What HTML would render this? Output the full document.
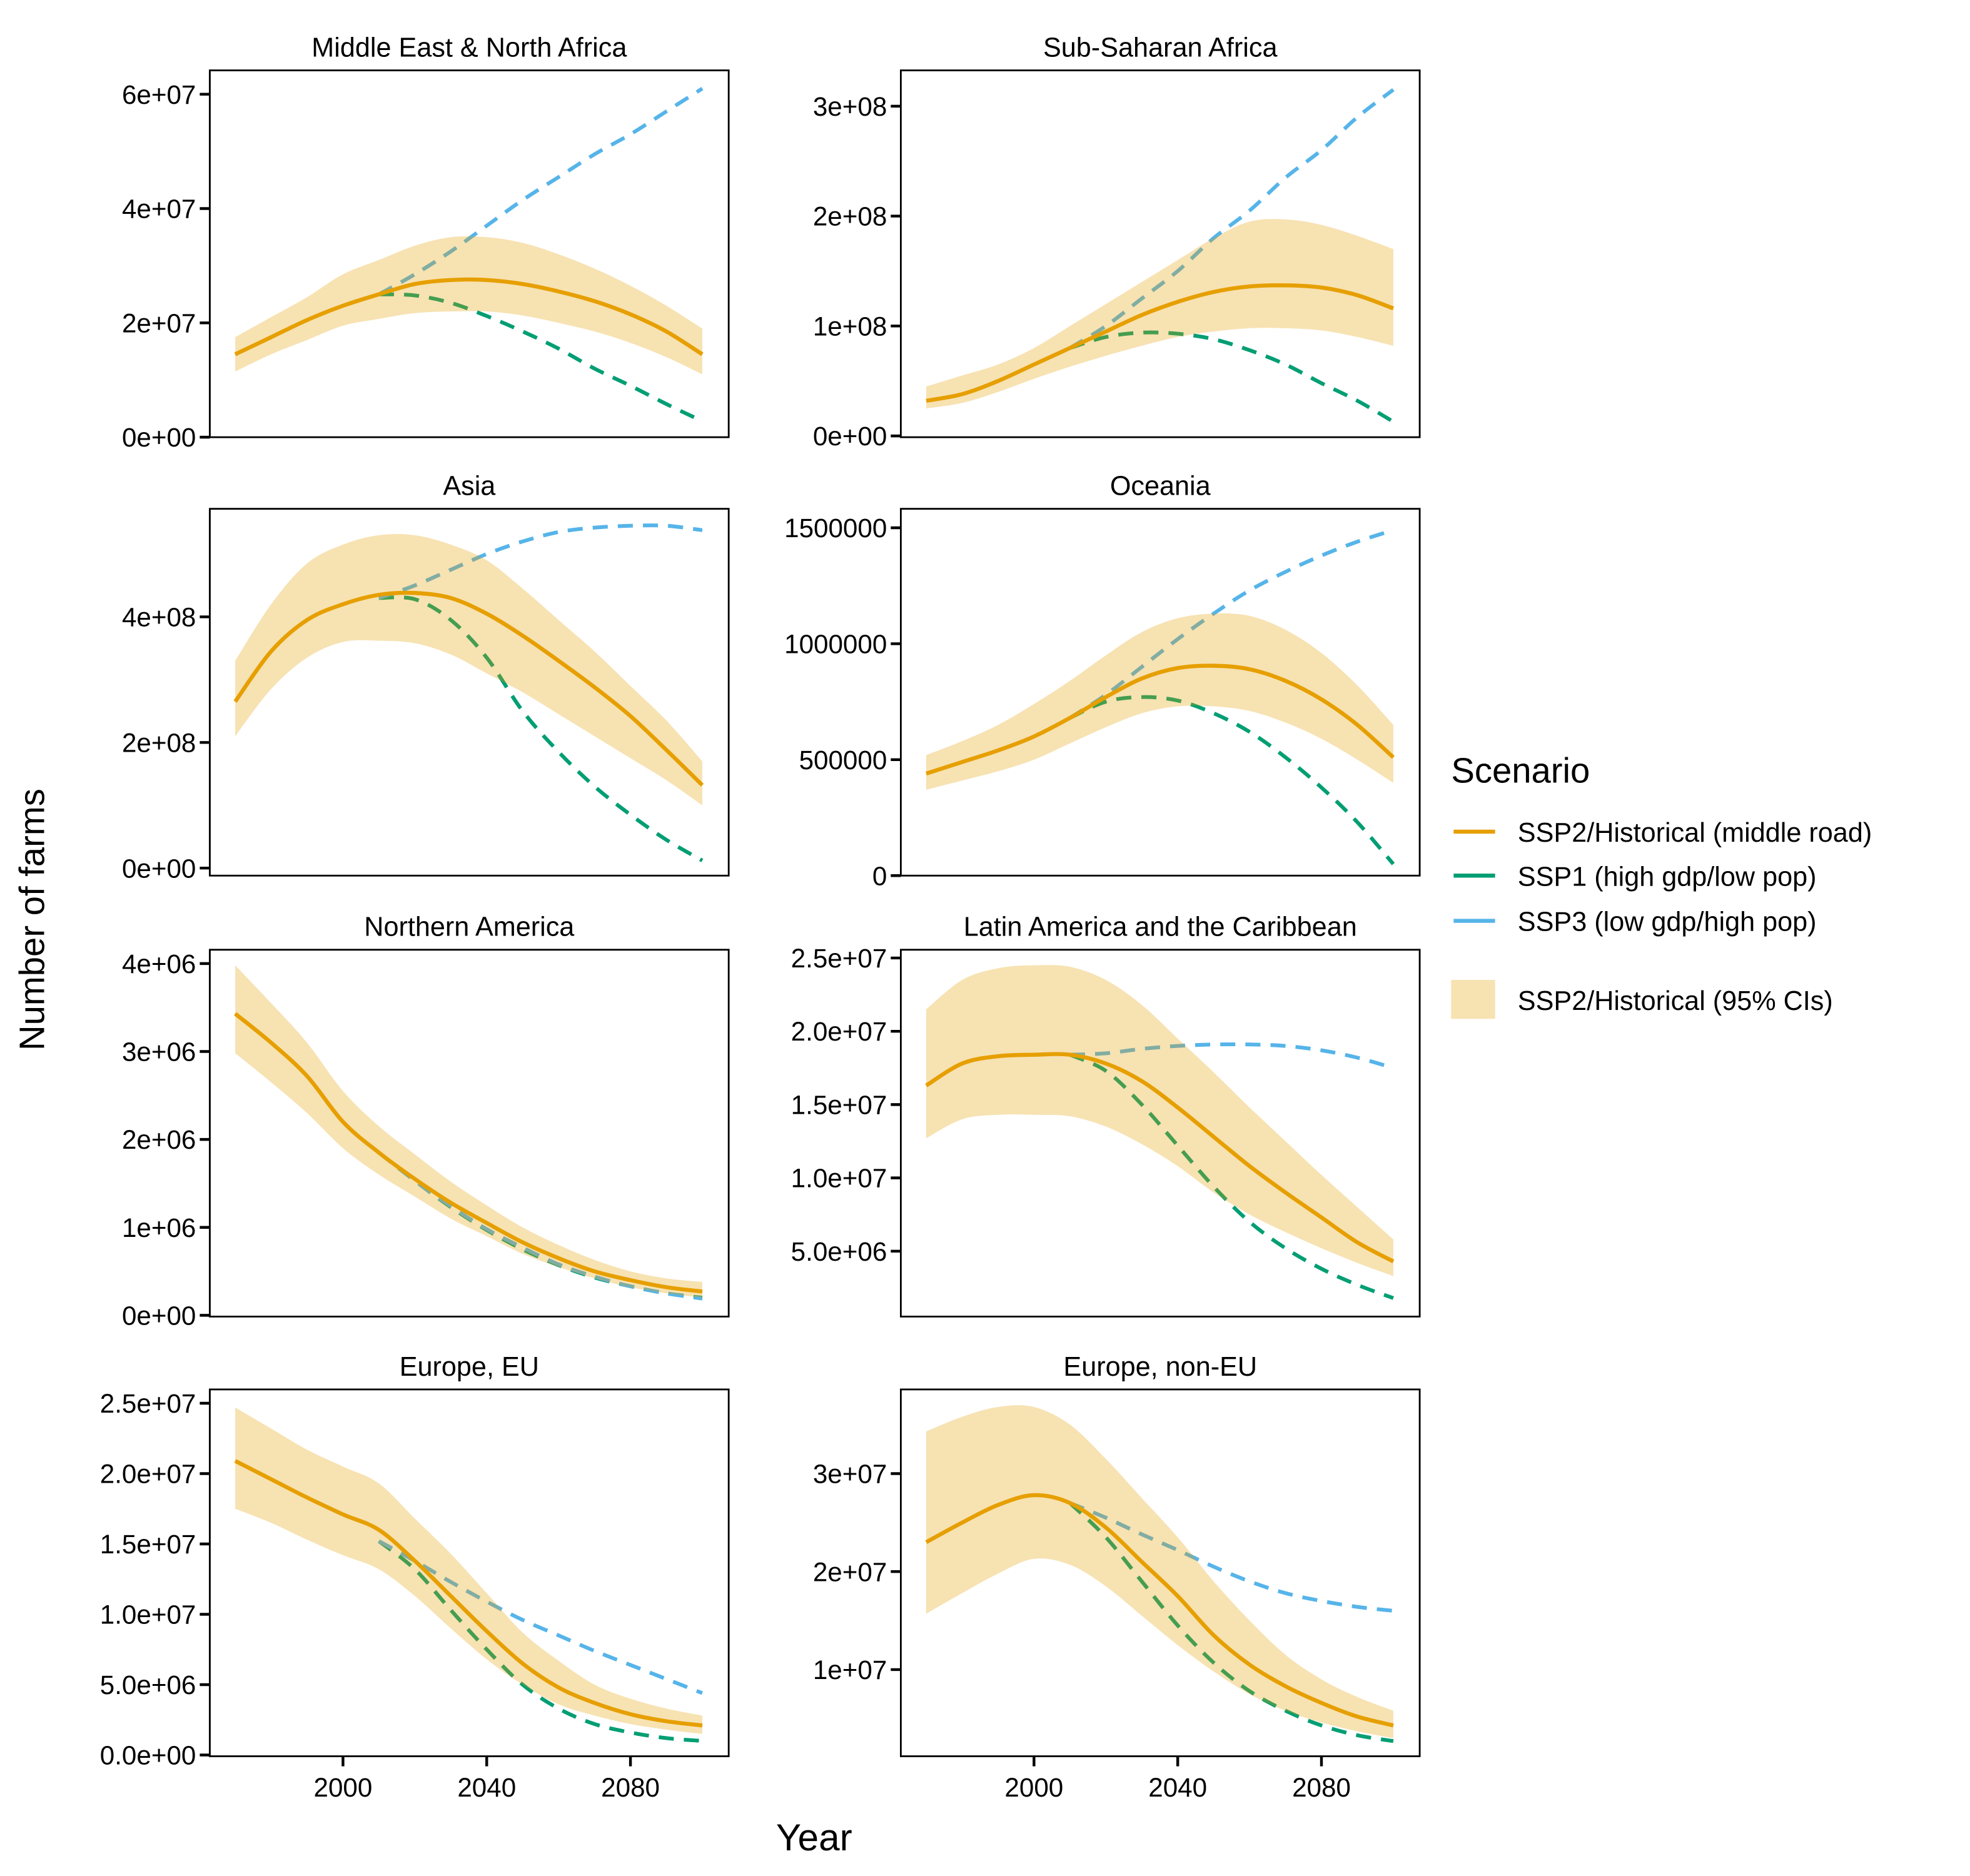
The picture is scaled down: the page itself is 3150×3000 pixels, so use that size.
<!DOCTYPE html>
<html><head><meta charset="utf-8">
<style>html,body{margin:0;padding:0;background:#fff}svg{display:block}text{font-family:"Liberation Sans",Arial,sans-serif;fill:#000}</style>
</head><body>
<svg id="chart" width="3150" height="3000" viewBox="0 0 1568 1493.3" xmlns="http://www.w3.org/2000/svg">
<text x="0" y="0" transform="translate(35,732) rotate(-90)" text-anchor="middle" font-size="28">Number of farms</text>
<text x="648" y="1473" text-anchor="middle" font-size="30">Year</text>
<g>
<text x="1155" y="623" font-size="28">Scenario</text>
<line x1="1157" y1="662" x2="1190" y2="662" stroke="#E69F00" stroke-width="3.2"/>
<text x="1208" y="670" font-size="21.5">SSP2/Historical (middle road)</text>
<line x1="1157" y1="697" x2="1190" y2="697" stroke="#009E73" stroke-width="3.2"/>
<text x="1208" y="705" font-size="21.5">SSP1 (high gdp/low pop)</text>
<line x1="1157" y1="733" x2="1190" y2="733" stroke="#56B4E9" stroke-width="3.2"/>
<text x="1208" y="741" font-size="21.5">SSP3 (low gdp/high pop)</text>
<rect x="1155" y="780" width="35" height="31" fill="#E69F00" fill-opacity="0.3"/>
<text x="1208" y="804" font-size="21.5">SSP2/Historical (95% CIs)</text>
</g>
</svg>
<script>
const years = [1970,1980,1990,2000,2010,2020,2030,2040,2050,2060,2070,2080,2090,2100];
const scenYears = [2010,2020,2030,2040,2050,2060,2070,2080,2090,2100];
const regionNames = ["Middle East & North Africa","Sub-Saharan Africa","Asia","Oceania","Northern America","Latin America and the Caribbean","Europe, EU","Europe, non-EU"];
const regionScale = [1e7,1e8,1e8,1e5,1e6,1e6,1e6,1e6];
const midValues = [
[1.45,1.75,2.05,2.3,2.5,2.68,2.75,2.75,2.68,2.55,2.38,2.15,1.85,1.45],
[0.32,0.38,0.5,0.65,0.8,0.95,1.1,1.22,1.31,1.36,1.37,1.35,1.28,1.16],
[2.65,3.45,3.95,4.2,4.35,4.38,4.3,4.05,3.7,3.3,2.88,2.42,1.88,1.32],
[4.4,4.9,5.4,6.0,6.8,7.7,8.5,8.95,9.05,8.9,8.4,7.6,6.5,5.1],
[3.43,3.1,2.72,2.2,1.85,1.55,1.28,1.05,0.83,0.65,0.5,0.4,0.32,0.27],
[16.3,17.8,18.3,18.4,18.4,17.8,16.6,14.8,12.8,10.8,9.0,7.3,5.6,4.3],
[20.9,19.6,18.3,17.1,16.0,13.8,11.3,8.8,6.5,4.8,3.7,2.9,2.4,2.1],
[23.0,25.0,26.8,27.8,27.0,24.5,21.0,17.5,13.5,10.5,8.3,6.6,5.2,4.3]];
const lowValues = [
[1.15,1.45,1.7,1.95,2.07,2.17,2.2,2.2,2.13,2.0,1.85,1.65,1.4,1.1],
[0.25,0.3,0.4,0.52,0.63,0.73,0.82,0.9,0.95,0.98,0.98,0.96,0.9,0.82],
[2.1,2.85,3.35,3.6,3.62,3.58,3.4,3.1,2.8,2.45,2.1,1.75,1.4,1.0],
[3.7,4.1,4.5,5.0,5.7,6.4,7.0,7.3,7.3,7.1,6.6,5.9,5.0,4.0],
[2.98,2.65,2.3,1.9,1.6,1.35,1.1,0.9,0.7,0.55,0.42,0.32,0.25,0.2],
[12.7,14.0,14.3,14.3,14.2,13.5,12.3,10.8,9.0,7.5,6.3,5.2,4.2,3.3],
[17.5,16.5,15.3,14.2,13.2,11.3,9.0,6.8,5.0,3.6,2.8,2.2,1.8,1.5],
[15.7,17.8,19.8,21.3,20.7,18.5,15.5,12.5,9.8,7.5,5.8,4.6,3.7,3.0]];
const highValues = [
[1.75,2.1,2.45,2.85,3.1,3.35,3.5,3.5,3.4,3.2,2.95,2.65,2.3,1.9],
[0.45,0.55,0.65,0.8,1.0,1.2,1.4,1.6,1.8,1.95,1.97,1.92,1.82,1.7],
[3.3,4.2,4.85,5.15,5.3,5.3,5.15,4.9,4.45,3.95,3.45,2.9,2.35,1.7],
[5.2,5.8,6.5,7.4,8.4,9.5,10.5,11.1,11.3,11.2,10.6,9.6,8.2,6.5],
[3.98,3.55,3.1,2.55,2.15,1.83,1.52,1.25,1.0,0.8,0.63,0.5,0.42,0.38],
[21.5,23.5,24.3,24.5,24.4,23.5,21.8,19.5,17.2,14.8,12.5,10.2,8.0,5.8],
[24.7,23.2,21.7,20.5,19.3,16.8,14.3,11.5,8.7,6.7,5.0,4.0,3.3,2.8],
[34.3,35.8,36.8,36.8,35.0,31.5,27.5,23.5,19.0,15.0,11.5,9.0,7.2,5.8]];
const ssp1Values = [
[2.5,2.48,2.35,2.12,1.85,1.55,1.2,0.9,0.58,0.28],
[0.8,0.9,0.94,0.93,0.88,0.78,0.65,0.48,0.32,0.13],
[4.3,4.28,3.95,3.35,2.5,1.85,1.3,0.85,0.45,0.12],
[6.8,7.5,7.7,7.55,7.0,6.2,5.1,3.8,2.3,0.5],
[1.85,1.53,1.23,0.97,0.75,0.57,0.43,0.33,0.25,0.2],
[18.4,17.3,15.0,12.2,9.4,7.0,5.2,3.8,2.7,1.8],
[15.2,13.2,10.3,7.5,5.0,3.3,2.2,1.6,1.2,1.0],
[27.0,23.5,19.0,14.5,10.7,7.8,5.8,4.3,3.3,2.7]];
const ssp3Values = [
[2.5,2.85,3.25,3.7,4.15,4.55,4.95,5.3,5.7,6.1],
[0.8,1.0,1.25,1.5,1.8,2.05,2.35,2.6,2.9,3.15],
[4.3,4.5,4.75,5.0,5.2,5.35,5.42,5.45,5.45,5.38],
[6.8,7.8,9.0,10.2,11.3,12.3,13.1,13.8,14.4,14.9],
[1.85,1.53,1.24,0.98,0.77,0.58,0.44,0.33,0.25,0.19],
[18.4,18.5,18.8,19.0,19.1,19.1,19.0,18.7,18.2,17.5],
[15.2,13.8,12.3,10.9,9.6,8.5,7.4,6.4,5.4,4.4],
[27.0,25.5,23.8,22.2,20.5,19.0,17.8,17.0,16.4,16.0]];
const tickLabels = [
["0e+00","2e+07","4e+07","6e+07"],
["0e+00","1e+08","2e+08","3e+08"],
["0e+00","2e+08","4e+08"],
["0","500000","1000000","1500000"],
["0e+00","1e+06","2e+06","3e+06","4e+06"],
["5.0e+06","1.0e+07","1.5e+07","2.0e+07","2.5e+07"],
["0.0e+00","5.0e+06","1.0e+07","1.5e+07","2.0e+07","2.5e+07"],
["1e+07","2e+07","3e+07"]];
const tickValues = [
[0,2e7,4e7,6e7],[0,1e8,2e8,3e8],[0,2e8,4e8],[0,5e5,1e6,1.5e6],
[0,1e6,2e6,3e6,4e6],[5e6,1e7,1.5e7,2e7,2.5e7],[0,5e6,1e7,1.5e7,2e7,2.5e7],[1e7,2e7,3e7]];
const xTickYears = [2000,2040,2080];
const yZero = [348,347,691,697,1047,1054.3,1397,1407];
const yPerUnit = [45.5e-7,87.5e-8,50e-8,18.46e-5,70e-6,11.67e-6,11.2e-6,7.8e-6];
const NS = "http://www.w3.org/2000/svg";
const svg = document.getElementById('chart');
function mk(tag, attrs, parent){const e=document.createElementNS(NS,tag);for(const k in attrs)e.setAttribute(k,attrs[k]);(parent||svg).appendChild(e);return e;}
function smooth(pts){
  let d="M"+pts[0][0].toFixed(2)+","+pts[0][1].toFixed(2);
  for(let i=0;i<pts.length-1;i++){
    const p0=pts[Math.max(0,i-1)],p1=pts[i],p2=pts[i+1],p3=pts[Math.min(pts.length-1,i+2)];
    const c1=[p1[0]+(p2[0]-p0[0])/6,p1[1]+(p2[1]-p0[1])/6];
    const c2=[p2[0]-(p3[0]-p1[0])/6,p2[1]-(p3[1]-p1[1])/6];
    d+="C"+c1[0].toFixed(2)+","+c1[1].toFixed(2)+" "+c2[0].toFixed(2)+","+c2[1].toFixed(2)+" "+p2[0].toFixed(2)+","+p2[1].toFixed(2);
  }
  return d;
}
const colLeft=[167,717], panelW=413, rowTop=[56,405,756,1106], panelH=292;
for(let r=0;r<8;r++){
  const col=r%2,row=Math.floor(r/2);
  const L=colLeft[col],T=rowTop[row];
  const x=yr=>L+106+(yr-2000)*2.86;
  const y=v=>yZero[r]-v*yPerUnit[r];
  const s=regionScale[r];
  const g=mk('g',{});
  
  
  const t=mk('text',{x:L+panelW/2,y:T-11,'text-anchor':'middle','font-size':'21.5'},g);
  
  
  t.textContent=regionNames[r];
  const p1=mk('path',{d:smooth(scenYears.map((yy,i)=>[x(yy),y(ssp1Values[r][i]*s)])),fill:'none',stroke:'#009E73','stroke-width':3,'stroke-dasharray':'12,8'},g);
  
  
  const p3=mk('path',{d:smooth(scenYears.map((yy,i)=>[x(yy),y(ssp3Values[r][i]*s)])),fill:'none',stroke:'#56B4E9','stroke-width':3,'stroke-dasharray':'12,8'},g);
  
  
  const hi=years.map((yy,i)=>[x(yy),y(highValues[r][i]*s)]);
  const lo=years.map((yy,i)=>[x(yy),y(lowValues[r][i]*s)]).reverse();
  const rib=mk('path',{d:smooth(hi)+" L"+lo[0][0]+","+lo[0][1]+smooth(lo).replace(/^M[^C]*/,'')+"Z",fill:'#E69F00','fill-opacity':0.3,stroke:'none'},g);
  
  
  const m=mk('path',{d:smooth(years.map((yy,i)=>[x(yy),y(midValues[r][i]*s)])),fill:'none',stroke:'#E69F00','stroke-width':3.2},g);
  
  
  const b=mk('rect',{x:L,y:T,width:panelW,height:panelH,fill:'none',stroke:'#000','stroke-width':1.4},g);
  
  
  tickValues[r].forEach((v,i)=>{
    const yy=y(v);
    const tl=mk('line',{x1:L-8,x2:L,y1:yy,y2:yy,stroke:'#000','stroke-width':2.2},g);
    
    
    const tx=mk('text',{x:L-11,y:yy+7.5,'text-anchor':'end','font-size':'21'},g);
    
    
    tx.textContent=tickLabels[r][i];
  });
  if(row===3){
    xTickYears.forEach(yr=>{
      const xx=x(yr);
      const tl=mk('line',{x1:xx,x2:xx,y1:T+panelH,y2:T+panelH+8,stroke:'#000','stroke-width':2.2},g);
      
      
      const tx=mk('text',{x:xx,y:T+panelH+32,'text-anchor':'middle','font-size':'21'},g);
      
      
      tx.textContent=yr;
    });
  }
}
</script>
</body></html>
